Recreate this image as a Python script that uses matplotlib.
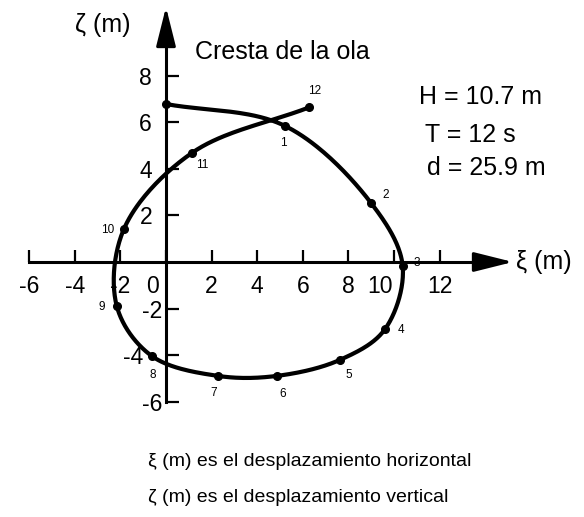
import numpy as np
import matplotlib.pyplot as plt
from matplotlib.transforms import ScaledTranslation

plt.rcParams['font.family'] = ['Liberation Sans', 'DejaVu Sans']

# particle path at the wave crest (m)
xi = [0.0, 5.22, 8.98, 10.38, 9.6, 7.63, 4.85, 2.29, -0.63, -2.16, -1.84, 1.15, 6.29]
zeta = [6.78, 5.84, 2.55, -0.17, -2.89, -4.2, -4.89, -4.89, -4.03, -1.89, 1.43, 4.69, 6.64]
point_labels = ['', '1', '2', '3', '4', '5', '6', '7', '8', '9', '10', '11', '12']
# label offsets in pixels
label_off = [(0, 0), (-2, -17), (15, 8), (14, 3), (16, -1), (9, -15), (6, -18),
             (-5, -17), (1, -19), (-15, -1), (-16, -1), (10, -12), (5, 16)]

xticks = [-6, -4, -2, 0, 2, 4, 6, 8, 10, 12]
yticks = [-6, -4, -2, 2, 4, 6, 8]


def catmull_rom(px, py, n=40, alpha=0.5):
    # centripetal Catmull-Rom through the points
    pts = np.column_stack([px, py]).astype(float)
    pts = np.vstack([2 * pts[0] - pts[1], pts, 2 * pts[-1] - pts[-2]])
    out = []
    for i in range(1, len(pts) - 2):
        P0, P1, P2, P3 = pts[i - 1:i + 3]
        t0 = 0.0
        t1 = t0 + np.linalg.norm(P1 - P0) ** alpha
        t2 = t1 + np.linalg.norm(P2 - P1) ** alpha
        t3 = t2 + np.linalg.norm(P3 - P2) ** alpha
        t = np.linspace(t1, t2, n, endpoint=False)[:, None]
        A1 = (t1 - t) / (t1 - t0) * P0 + (t - t0) / (t1 - t0) * P1
        A2 = (t2 - t) / (t2 - t1) * P1 + (t - t1) / (t2 - t1) * P2
        A3 = (t3 - t) / (t3 - t2) * P2 + (t - t2) / (t3 - t2) * P3
        B1 = (t2 - t) / (t2 - t0) * A1 + (t - t0) / (t2 - t0) * A2
        B2 = (t3 - t) / (t3 - t1) * A2 + (t - t1) / (t3 - t1) * A3
        out.append((t2 - t) / (t2 - t1) * B1 + (t - t1) / (t2 - t1) * B2)
    out.append(pts[-2][None])
    return np.vstack(out)


W, H = 584, 517
fig = plt.figure(figsize=(W / 100, H / 100), dpi=100)
ax = fig.add_axes([0, 0, 1, 1])
ax.set_xlim(-166 / 22.8, (W - 166) / 22.8)
ax.set_ylim(-(H - 262) / 23.3, 262 / 23.3)

# axes through the origin
for side in ['top', 'right']:
    ax.spines[side].set_visible(False)
ax.spines['left'].set_position(('data', 0))
ax.spines['bottom'].set_position(('data', 0))
ax.spines['left'].set_bounds(-6, 9.5)
ax.spines['bottom'].set_bounds(-6, 14)
for side in ['left', 'bottom']:
    ax.spines[side].set_linewidth(2.2)

arrow = dict(arrowstyle='-|>,head_length=1.2,head_width=0.3', color='k', lw=2.2,
             shrinkA=0, shrinkB=0, mutation_scale=20)
ax.annotate('', xy=((513 - 166) / 22.8, 0), xytext=(13.5, 0), arrowprops=arrow)
ax.annotate('', xy=(0, (262 - 7) / 23.3), xytext=(0, 9.3), arrowprops=arrow)

ax.set_xticks(xticks)
ax.set_xticklabels([str(v) for v in xticks])
ax.set_yticks(yticks)
ax.set_yticklabels([str(v) for v in yticks])
ax.tick_params(axis='x', direction='in', length=9, width=1.6, pad=9.5, labelsize=16.5)
ax.tick_params(axis='y', direction='in', length=9.5, width=1.6, pad=10, labelsize=16.5)

# nudge a few tick labels off the curve
def shift(label, dx):
    label.set_transform(label.get_transform() + ScaledTranslation(dx / 100, 0, fig.dpi_scale_trans))

for lab, v in zip(ax.get_xticklabels(), xticks):
    if v == 0:
        shift(lab, -13)
    elif v == 10:
        shift(lab, -14)
for lab, v in zip(ax.get_yticklabels(), yticks):
    if v in (-2, -6):
        shift(lab, 10)
    elif v == -4:
        shift(lab, -9)

curve = catmull_rom(xi, zeta)
ax.plot(curve[:, 0], curve[:, 1], color='k', lw=3.0, solid_capstyle='round')
ax.plot(xi, zeta, 'o', color='k', ms=5.5)

for x, y, s, off in zip(xi, zeta, point_labels, label_off):
    if s:
        ax.annotate(s, (x, y), xytext=off, textcoords='offset pixels',
                    ha='center', va='center', fontsize=8.5)

fig.text(75 / W, 1 - 25 / H, 'ζ (m)', fontsize=18, va='center', ha='left')
fig.text(516 / W, 1 - 262 / H, 'ξ (m)', fontsize=18, va='center', ha='left')
fig.text(195 / W, 1 - 52 / H, 'Cresta de la ola', fontsize=18, va='center', ha='left')
fig.text(419 / W, 1 - 97 / H, 'H = 10.7 m', fontsize=18, va='center', ha='left')
fig.text(425 / W, 1 - 135 / H, 'T = 12 s', fontsize=18, va='center', ha='left')
fig.text(427 / W, 1 - 168 / H, 'd = 25.9 m', fontsize=18, va='center', ha='left')
fig.text(148 / W, 1 - 462 / H, 'ξ (m) es el desplazamiento horizontal', fontsize=14,
         va='center', ha='left')
fig.text(148 / W, 1 - 497 / H, 'ζ (m) es el desplazamiento vertical', fontsize=14,
         va='center', ha='left')

fig.savefig('out.png', dpi=100)
